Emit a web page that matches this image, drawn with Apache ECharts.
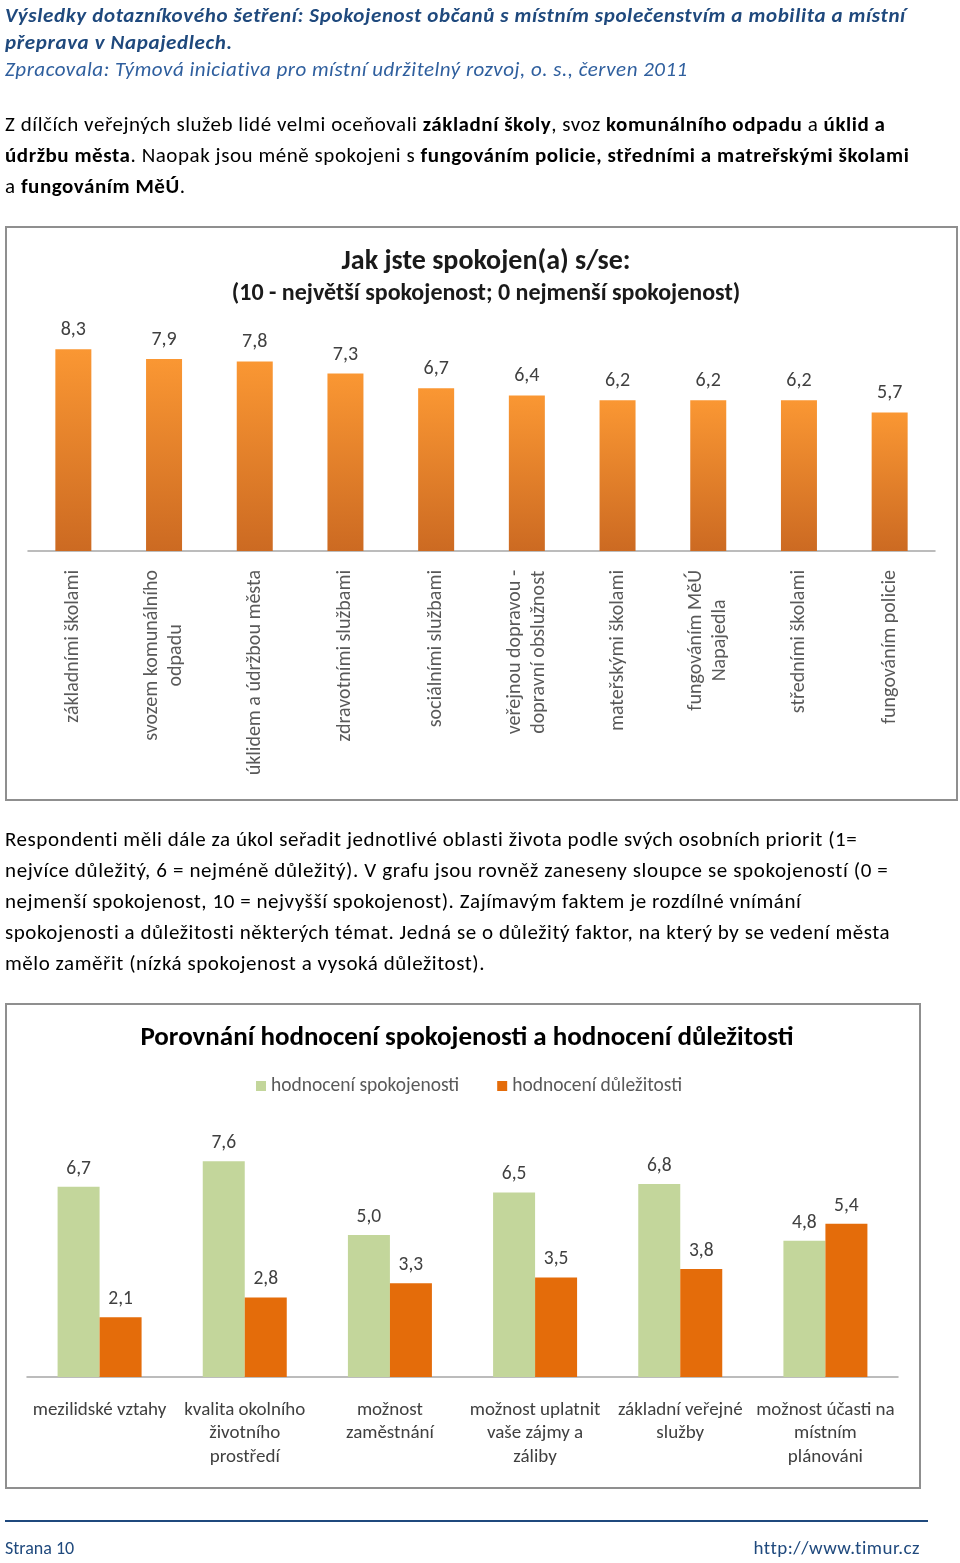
<!DOCTYPE html>
<html>
<head>
<meta charset="utf-8">
<script src="https://cdn.jsdelivr.net/npm/echarts@6/dist/echarts.min.js"></script>
<style>
  html, body { margin:0; padding:0; background:#fff; }
  #page { position:relative; width:960px; height:1563px; overflow:hidden; font-family: Carlito, Lato, 'Open Sans', sans-serif; }
  .ln { position:absolute; left:5px; white-space:nowrap; }
  .hd { font-size:21px; line-height:27px; letter-spacing:0.63px; }
  .tx { font-size:21px; line-height:31px; color:#000; letter-spacing:0.55px; }
  .box { position:absolute; border:2px solid #8f8f8f; box-sizing:border-box; }
  #chart { position:absolute; left:0; top:0; width:960px; height:1563px; }
</style>
</head>
<body>
<div id="page">
  <div class="box" style="left:5px; top:226px; width:953px; height:575px;"></div>
  <div class="box" style="left:5px; top:1003px; width:916px; height:486px;"></div>
  <div id="chart"></div>

  <div class="ln hd" style="top:2px; color:#1F497D; font-weight:bold; font-style:italic;">Výsledky dotazníkového šetření: Spokojenost občanů s místním společenstvím a mobilita a místní</div>
  <div class="ln hd" style="top:29px; color:#1F497D; font-weight:bold; font-style:italic;">přeprava v Napajedlech.</div>
  <div class="ln hd" style="top:56px; color:#2F5F9E; font-style:italic; letter-spacing:0.5px;">Zpracovala: Týmová iniciativa pro místní udržitelný rozvoj, o. s., červen 2011</div>

  <div class="ln tx" style="top:109px;">Z dílčích veřejných služeb lidé velmi oceňovali <b>základní školy</b>, svoz <b>komunálního odpadu</b> a <b>úklid a</b></div>
  <div class="ln tx" style="top:140px;"><b>údržbu města</b>. Naopak jsou méně spokojeni s <b>fungováním policie, středními a matreřskými školami</b></div>
  <div class="ln tx" style="top:171px;">a <b>fungováním MěÚ</b>.</div>

  <div class="ln tx" style="top:824px;">Respondenti měli dále za úkol seřadit jednotlivé oblasti života podle svých osobních priorit (1=</div>
  <div class="ln tx" style="top:855px; letter-spacing:0.62px;">nejvíce důležitý, 6 = nejméně důležitý). V grafu jsou rovněž zaneseny sloupce se spokojeností (0 =</div>
  <div class="ln tx" style="top:886px;">nejmenší spokojenost, 10 = nejvyšší spokojenost). Zajímavým faktem je rozdílné vnímání</div>
  <div class="ln tx" style="top:917px;">spokojenosti a důležitosti některých témat. Jedná se o důležitý faktor, na který by se vedení města</div>
  <div class="ln tx" style="top:948px;">mělo zaměřit (nízká spokojenost a vysoká důležitost).</div>

  <div style="position:absolute; left:5px; top:1520px; width:923px; height:2px; background:#1F497D;"></div>
  <div class="ln" style="top:1536px; font-size:18px; line-height:24px; color:#1F497D;">Strana 10</div>
  <div class="ln" style="top:1536px; left:auto; right:40px; font-size:19px; line-height:24px; letter-spacing:0.5px; color:#1F497D;">http://www.timur.cz</div>
</div>

<script>
const FONT = "Carlito, Lato, 'Open Sans', sans-serif";

// Chart 1: Jak jste spokojen(a) s/se
const satCats = ['základními školami', 'svozem komunálního\nodpadu', 'úklidem a údržbou města', 'zdravotními službami', 'sociálními službami', 'veřejnou dopravou -\ndopravní obslužnost', 'mateřskými školami', 'fungováním MěÚ\nNapajedla', 'středními školami', 'fungováním policie'];
const satValues = [8.3, 7.9, 7.8, 7.3, 6.7, 6.4, 6.2, 6.2, 6.2, 5.7];

// Chart 2: Porovnání hodnocení spokojenosti a hodnocení důležitosti
const cmpCats = ['mezilidské vztahy', 'kvalita okolního\nživotního\nprostředí', 'možnost\nzaměstnání', 'možnost uplatnit\nvaše zájmy a\nzáliby', 'základní veřejné\nslužby', 'možnost účasti na\nmístním\nplánováni'];
const satisfaction = [6.7, 7.6, 5.0, 6.5, 6.8, 4.8];
const importance = [2.1, 2.8, 3.3, 3.5, 3.8, 5.4];
const seriesNames = ['hodnocení spokojenosti', 'hodnocení důležitosti'];

const fmt = p => p.value.toFixed(1).replace('.', ',');

const chart = echarts.init(document.getElementById('chart'), null, { renderer: 'canvas' });
chart.setOption({
  backgroundColor: 'transparent',
  animation: false,
  textStyle: { fontFamily: FONT },
  title: [
    { text: 'Jak jste spokojen(a) s/se:', left: 481, top: 243, textAlign: 'center',
      textStyle: { fontFamily: FONT, fontSize: 28, fontWeight: 'bold', color: '#1a1a1a' } },
    { text: '(10 - největší spokojenost; 0 nejmenší spokojenost)', left: 481, top: 277, textAlign: 'center',
      textStyle: { fontFamily: FONT, fontSize: 24, fontWeight: 'bold', color: '#1a1a1a' } },
    { text: 'Porovnání hodnocení spokojenosti a hodnocení důležitosti', left: 462, top: 1020, textAlign: 'center',
      textStyle: { fontFamily: FONT, fontSize: 27, fontWeight: 'bold', color: '#000' } }
  ],
  legend: {
    data: seriesNames,
    left: 251, top: 1071,
    itemWidth: 10, itemHeight: 10, itemGap: 38,
    icon: 'rect',
    textStyle: { fontFamily: FONT, fontSize: 19.5, color: '#595959' }
  },
  grid: [
    { left: 28, top: 308, width: 907, height: 243 },
    { left: 27, top: 1093, width: 871, height: 284 }
  ],
  xAxis: [
    { type: 'category', gridIndex: 0, data: satCats,
      axisLine: { lineStyle: { color: '#a6a6a6', width: 1.5 } },
      axisTick: { show: false },
      axisLabel: {
        interval: 0, rotate: 90, margin: 19,
        formatter: s => s.split('\n').map(l => '{c|' + l + '}').join('\n'),
        rich: { c: { align: 'center', fontFamily: FONT, fontSize: 20, lineHeight: 24, color: '#595959' } }
      }
    },
    { type: 'category', gridIndex: 1, data: cmpCats,
      axisLine: { lineStyle: { color: '#a6a6a6', width: 1.5 } },
      axisTick: { show: false },
      axisLabel: { interval: 0, margin: 21, fontFamily: FONT, fontSize: 19, lineHeight: 23.5, color: '#404040', align: 'center' }
    }
  ],
  yAxis: [
    { type: 'value', gridIndex: 0, min: 0, max: 10, show: false, splitLine: { show: false } },
    { type: 'value', gridIndex: 1, min: 0, max: 10, show: false, splitLine: { show: false } }
  ],
  series: [
    { type: 'bar', xAxisIndex: 0, yAxisIndex: 0, data: satValues, barWidth: 36,
      itemStyle: { color: new echarts.graphic.LinearGradient(0, 0, 0, 1, [
        { offset: 0, color: '#FA9733' }, { offset: 1, color: '#CC6A22' } ]) },
      label: { show: true, position: 'top', distance: 9, formatter: fmt,
        fontFamily: FONT, fontSize: 20, color: '#404040' } },
    { name: seriesNames[0], type: 'bar', xAxisIndex: 1, yAxisIndex: 1, data: satisfaction, barWidth: 42, barGap: '0%',
      itemStyle: { color: '#C3D69B' },
      label: { show: true, position: 'top', distance: 8, formatter: fmt,
        fontFamily: FONT, fontSize: 19.5, color: '#404040' } },
    { name: seriesNames[1], type: 'bar', xAxisIndex: 1, yAxisIndex: 1, data: importance, barWidth: 42, barGap: '0%',
      itemStyle: { color: '#E46C0A' },
      label: { show: true, position: 'top', distance: 8, formatter: fmt,
        fontFamily: FONT, fontSize: 19.5, color: '#404040' } }
  ]
});
</script>
</body>
</html>
